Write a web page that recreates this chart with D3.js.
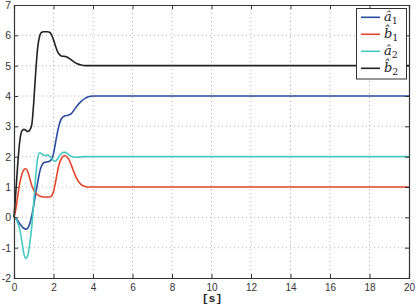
<!DOCTYPE html>
<html><head><meta charset="utf-8">
<script src="https://cdn.jsdelivr.net/npm/d3@7/dist/d3.min.js"></script>
<style>body{margin:0;background:#fff;}svg{display:block;}</style>
</head><body><svg id="c" width="416" height="306"></svg>
<script>
const time = [0,0.1,0.2,0.3,0.4,0.5,0.6,0.7,0.8,0.9,1.0,1.1,1.2,1.3,1.4,1.5,1.6,1.7,1.8,1.9,2.0,2.1,2.2,2.3,2.4,2.5,2.6,2.7,2.8,2.9,3.0,3.2,3.4,3.6,3.8,4.0,4.5,20];
const a1 = [0,-0.04,-0.12,-0.22,-0.3,-0.36,-0.39,-0.35,-0.2,0.05,0.4,0.8,1.15,1.5,1.7,1.8,1.82,1.83,1.85,1.92,2.1,2.45,2.8,3.08,3.25,3.32,3.35,3.36,3.38,3.42,3.5,3.68,3.82,3.92,3.98,4.0,4.0,4.0];
const b1 = [0,0.3,0.75,1.15,1.42,1.57,1.6,1.5,1.28,1.05,0.9,0.8,0.74,0.7,0.68,0.67,0.67,0.67,0.67,0.7,0.85,1.15,1.5,1.78,1.93,2.02,2.03,1.98,1.88,1.72,1.55,1.25,1.08,1.02,1.0,1.0,1.0,1.0];
const a2 = [0,-0.05,-0.2,-0.42,-0.8,-1.2,-1.35,-1.25,-0.85,-0.3,0.5,1.35,1.95,2.13,2.1,2.05,2.04,2.05,2.02,1.95,1.87,1.85,1.92,2.02,2.1,2.14,2.14,2.1,2.05,2.01,1.99,1.98,1.99,2.0,2.0,2.0,2.0,2.0];
const b2 = [0,0.9,1.85,2.55,2.85,2.9,2.87,2.83,2.88,3.05,3.8,4.8,5.6,5.98,6.1,6.12,6.12,6.12,6.1,6.02,5.85,5.65,5.47,5.37,5.32,5.31,5.3,5.28,5.24,5.19,5.14,5.06,5.02,5.0,5.0,5.0,5.0,5.0];
const xTicks = [0,2,4,6,8,10,12,14,16,18,20];
const yTicks = [-2,-1,0,1,2,3,4,5,6,7];
const seriesNames = ["a1","b1","a2","b2"];
const seriesColors = ["#2a4c9e","#e5432b","#45c9c1","#222222"];
const seriesBase = ["â","b̂","â","b̂"];
const seriesSub = ["1","1","2","2"];
const seriesVals = [a1,b1,a2,b2];

const svg = d3.select("#c");
const L=14, R=409, T=5, B=278;
const x = d3.scaleLinear().domain([0,20]).range([L,R]);
const y = d3.scaleLinear().domain([-2,7]).range([B,T]);

// grid
const g = svg.append("g");
g.selectAll(".gx").data(xTicks.slice(1,-1)).enter().append("line")
  .attr("x1",d=>x(d)).attr("x2",d=>x(d)).attr("y1",T).attr("y2",B)
  .attr("stroke","#b4b4b4").attr("stroke-width",1).attr("stroke-dasharray","1,3");
g.selectAll(".gy").data(yTicks.slice(1,-1)).enter().append("line")
  .attr("y1",d=>y(d)).attr("y2",d=>y(d)).attr("x1",L).attr("x2",R)
  .attr("stroke","#b4b4b4").attr("stroke-width",1).attr("stroke-dasharray","1,3");

// lines
const line = d3.line().x(d=>x(d[0])).y(d=>y(d[1])).curve(d3.curveMonotoneX);
seriesVals.forEach((vals,i)=>{
  svg.append("path").datum(time.map((t,j)=>[t,vals[j]]))
    .attr("d",line).attr("fill","none").attr("stroke",seriesColors[i]).attr("stroke-width",1.6);
});

// axes
const axCol="#333";
const xb = svg.append("g").attr("transform",`translate(0,${B})`)
  .call(d3.axisBottom(x).tickValues(xTicks).tickSize(-4).tickPadding(5.5));
const xt = svg.append("g").attr("transform",`translate(0,${T})`)
  .call(d3.axisTop(x).tickValues(xTicks).tickSize(-4).tickFormat(""));
const yl = svg.append("g").attr("transform",`translate(${L},0)`)
  .call(d3.axisLeft(y).tickValues(yTicks).tickSize(-4).tickPadding(3).tickFormat(d=>String(d)));
const yr = svg.append("g").attr("transform",`translate(${R},0)`)
  .call(d3.axisRight(y).tickValues(yTicks).tickSize(-4).tickFormat(""));
[xb,xt,yl,yr].forEach(a=>{
  a.selectAll("path").attr("stroke",axCol).attr("stroke-width",1.2);
  a.selectAll("line").attr("stroke",axCol);
  a.selectAll("text").attr("fill","#333").style("font-family","Liberation Sans, Arial, sans-serif").style("font-size","10.5px");
});
xb.selectAll("text").style("font-size","10px");

svg.append("text").attr("x",212).attr("y",302.3).attr("text-anchor","middle")
  .style("font-family","Liberation Mono, monospace").style("font-weight","bold").style("font-size","11.5px").attr("fill","#222").text("[s]");

// legend
const lg = svg.append("g");
lg.append("rect").attr("x",356.5).attr("y",8.5).attr("width",50).attr("height",70.5)
  .attr("fill","#fff").attr("stroke","#333").attr("stroke-width",1);
seriesNames.forEach((n,i)=>{
  const yy = 17.3+i*17;
  lg.append("line").attr("x1",361).attr("x2",380).attr("y1",yy).attr("y2",yy)
    .attr("stroke",seriesColors[i]).attr("stroke-width",1.6);
  const t = lg.append("text").attr("x",384).attr("y",yy+4)
    .style("font-family","DejaVu Serif, serif").style("font-style","italic").style("font-size","13px").attr("fill","#222");
  t.append("tspan").text(seriesBase[i]);
  t.append("tspan").attr("dy",3).style("font-size","9.5px").style("font-style","normal").text(seriesSub[i]);
});
</script></body></html>
